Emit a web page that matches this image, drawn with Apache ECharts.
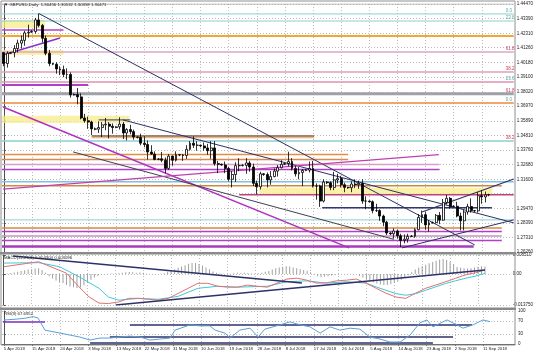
<!DOCTYPE html>
<html><head><meta charset="utf-8">
<script src="https://cdn.jsdelivr.net/npm/echarts@6/dist/echarts.min.js"></script>
<style>html,body{margin:0;padding:0;background:#fff}#c{width:536px;height:358px}</style>
</head><body><div id="c"></div>
<script>
// ---------- DATA ----------
const xTickLabels = ['5 Apr 2018','15 Apr 2018','24 Apr 2018','3 May 2018','13 May 2018','22 May 2018','31 May 2018','10 Jun 2018','19 Jun 2018','28 Jun 2018','8 Jul 2018','17 Jul 2018','26 Jul 2018','5 Aug 2018','14 Aug 2018','23 Aug 2018','2 Sep 2018','11 Sep 2018'];
const xTickBars = [0,8,16,24,32,40,48,56,64,72,80,88,96,104,112,120,128,136];
const priceTicks = [1.26260,1.27310,1.28390,1.29470,1.31600,1.32680,1.33760,1.34810,1.35890,1.36970,1.38020,1.39100,1.40180,1.41260,1.42310,1.43390,1.44470];
const priceGrid = [1.26260,1.27310,1.28390,1.29470,1.30550,1.31600,1.32680,1.33760,1.34810,1.35890,1.36970,1.38020,1.39100,1.40180,1.41260,1.42310,1.43390,1.44470];
const macdTicks = [-0.01375, 0, 0.00851];
const rsiTicks = [0, 30, 70, 100];
const lastPrice = 1.30471;

// [open, close, low, high] per daily bar, 5 Apr .. 13 Sep 2018
const candles = [
[1.4090,1.4010,1.3990,1.4095],[1.4010,1.4085,1.3980,1.4100],[1.4085,1.4090,1.4080,1.4095],[1.4090,1.4120,1.4055,1.4145],
[1.4120,1.4160,1.4090,1.4185],[1.4160,1.4180,1.4120,1.4215],[1.4180,1.4235,1.4140,1.4250],[1.4235,1.4240,1.4200,1.4295],
[1.4240,1.4245,1.4235,1.4255],[1.4245,1.4330,1.4230,1.4345],[1.4330,1.4290,1.4275,1.4377],[1.4290,1.4195,1.4165,1.4300],
[1.4195,1.4085,1.4070,1.4215],[1.4085,1.4010,1.3990,1.4110],[1.4010,1.4005,1.3998,1.4015],[1.4005,1.3970,1.3935,1.4020],
[1.3970,1.3965,1.3925,1.3990],[1.3965,1.3930,1.3910,1.3995],[1.3930,1.3930,1.3895,1.3975],[1.3930,1.3780,1.3760,1.3945],
[1.3780,1.3782,1.3775,1.3790],[1.3782,1.3765,1.3710,1.3830],[1.3765,1.3610,1.3600,1.3790],[1.3610,1.3590,1.3575,1.3640],
[1.3590,1.3580,1.3530,1.3620],[1.3580,1.3530,1.3485,1.3590],[1.3530,1.3528,1.3520,1.3540],[1.3528,1.3540,1.3500,1.3585],
[1.3540,1.3560,1.3470,1.3580],[1.3560,1.3565,1.3520,1.3610],[1.3565,1.3550,1.3460,1.3580],[1.3550,1.3540,1.3495,1.3570],
[1.3540,1.3545,1.3535,1.3550],[1.3545,1.3565,1.3525,1.3615],[1.3565,1.3500,1.3455,1.3580],[1.3500,1.3525,1.3445,1.3535],
[1.3525,1.3510,1.3490,1.3560],[1.3510,1.3470,1.3450,1.3525],[1.3470,1.3468,1.3460,1.3475],[1.3468,1.3425,1.3410,1.3495],
[1.3425,1.3415,1.3395,1.3475],[1.3415,1.3360,1.3305,1.3445],[1.3360,1.3345,1.3340,1.3410],[1.3345,1.3305,1.3300,1.3365],
[1.3305,1.3310,1.3300,1.3315],[1.3310,1.3300,1.3285,1.3360],[1.3300,1.3240,1.3205,1.3320],[1.3240,1.3330,1.3230,1.3345],
[1.3330,1.3300,1.3260,1.3335],[1.3300,1.3340,1.3290,1.3365],[1.3340,1.3338,1.3330,1.3345],[1.3338,1.3335,1.3295,1.3345],
[1.3335,1.3380,1.3310,1.3410],[1.3380,1.3425,1.3370,1.3440],[1.3425,1.3410,1.3390,1.3475],[1.3410,1.3410,1.3370,1.3440],
[1.3410,1.3405,1.3395,1.3415],[1.3405,1.3390,1.3370,1.3430],[1.3390,1.3370,1.3340,1.3420],[1.3370,1.3390,1.3310,1.3440],
[1.3390,1.3275,1.3260,1.3440],[1.3275,1.3270,1.3205,1.3295],[1.3270,1.3265,1.3260,1.3275],[1.3265,1.3240,1.3205,1.3290],
[1.3240,1.3160,1.3145,1.3250],[1.3160,1.3195,1.3100,1.3220],[1.3195,1.3260,1.3140,1.3285],[1.3260,1.3260,1.3220,1.3315],
[1.3260,1.3262,1.3255,1.3270],[1.3262,1.3280,1.3200,1.3315],[1.3280,1.3250,1.3215,1.3295],[1.3250,1.3130,1.3110,1.3275],
[1.3130,1.3105,1.3050,1.3150],[1.3105,1.3200,1.3085,1.3215],[1.3200,1.3195,1.3185,1.3205],[1.3195,1.3155,1.3100,1.3210],
[1.3155,1.3180,1.3120,1.3220],[1.3180,1.3220,1.3175,1.3240],[1.3220,1.3245,1.3180,1.3265],[1.3245,1.3270,1.3240,1.3300],
[1.3270,1.3275,1.3265,1.3280],[1.3275,1.3290,1.3255,1.3363],[1.3290,1.3240,1.3225,1.3315],[1.3240,1.3200,1.3180,1.3260],
[1.3200,1.3210,1.3160,1.3250],[1.3210,1.3225,1.3110,1.3235],[1.3225,1.3228,1.3220,1.3235],[1.3228,1.3240,1.3210,1.3290],
[1.3240,1.3110,1.3100,1.3295],[1.3110,1.3110,1.3010,1.3130],[1.3110,1.3000,1.2957,1.3120],[1.3000,1.3140,1.2990,1.3160],
[1.3140,1.3135,1.3125,1.3145],[1.3135,1.3100,1.3080,1.3145],[1.3100,1.3155,1.3080,1.3215],[1.3155,1.3165,1.3130,1.3200],
[1.3165,1.3120,1.3100,1.3185],[1.3120,1.3100,1.3065,1.3135],[1.3100,1.3098,1.3090,1.3105],[1.3098,1.3125,1.3065,1.3145],
[1.3125,1.3120,1.3095,1.3160],[1.3120,1.3130,1.3090,1.3150],[1.3130,1.3000,1.2980,1.3160],[1.3000,1.3000,1.2940,1.3035],
[1.3000,1.2995,1.2990,1.3005],[1.2995,1.2930,1.2910,1.3005],[1.2930,1.2930,1.2920,1.2980],[1.2930,1.2890,1.2855,1.2940],
[1.2890,1.2845,1.2815,1.2900],[1.2845,1.2765,1.2750,1.2855],[1.2765,1.2760,1.2750,1.2770],[1.2760,1.2780,1.2725,1.2800],
[1.2780,1.2745,1.2725,1.2790],[1.2745,1.2710,1.2662,1.2760],[1.2710,1.2720,1.2690,1.2755],[1.2720,1.2740,1.2695,1.2760],
[1.2740,1.2742,1.2735,1.2750],[1.2742,1.2790,1.2730,1.2800],[1.2790,1.2880,1.2785,1.2905],[1.2880,1.2900,1.2840,1.2930],
[1.2900,1.2825,1.2790,1.2920],[1.2825,1.2840,1.2775,1.2860],[1.2840,1.2842,1.2835,1.2850],[1.2842,1.2895,1.2835,1.2905],
[1.2895,1.2860,1.2830,1.2920],[1.2860,1.2990,1.2855,1.3015],[1.2990,1.3020,1.2975,1.3045],[1.3020,1.2960,1.2945,1.3030],
[1.2960,1.2962,1.2955,1.2970],[1.2962,1.2890,1.2880,1.2995],[1.2890,1.2855,1.2785,1.2915],[1.2855,1.2920,1.2785,1.2935],
[1.2920,1.2960,1.2900,1.2980],[1.2960,1.2930,1.2915,1.3020],[1.2930,1.2928,1.2920,1.2935],[1.2928,1.3040,1.2915,1.3065],
[1.3040,1.3030,1.2980,1.3080],[1.3030,1.3045,1.2990,1.3070],[1.30456,1.30471,1.30358,1.30532]
];

const macdHist = [
0.0002,0.0003,0.0005,0.0007,0.0010,0.0014,0.0017,0.0020,0.0022,0.0025,0.0026,0.0018,0.0006,-0.0010,-0.0020,-0.0028,
-0.0035,-0.0040,-0.0048,-0.0055,-0.0058,-0.0062,-0.0060,-0.0050,-0.0038,-0.0025,-0.0015,-0.0008,-0.0003,0.0000,0.0002,0.0003,
0.0002,0.0004,0.0006,0.0008,0.0009,0.0008,0.0006,0.0007,0.0006,0.0003,0.0001,0.0000,0.0000,0.0002,0.0004,0.0010,
0.0016,0.0022,0.0028,0.0034,0.0040,0.0046,0.0050,0.0049,0.0045,0.0038,0.0030,0.0022,0.0012,0.0006,0.0003,0.0002,
0.0001,0.0002,0.0004,0.0006,0.0005,0.0006,0.0005,0.0003,0.0002,0.0004,0.0006,0.0010,0.0014,0.0020,0.0026,0.0030,
0.0033,0.0035,0.0034,0.0030,0.0026,0.0022,0.0018,0.0015,0.0008,-0.0004,-0.0010,-0.0013,-0.0012,-0.0010,-0.0006,-0.0003,
-0.0001,0.0000,0.0001,0.0002,0.0001,0.0000,-0.0008,-0.0015,-0.0022,-0.0030,-0.0036,-0.0042,-0.0046,-0.0049,-0.0048,-0.0045,
-0.0040,-0.0034,-0.0025,-0.0015,-0.0005,0.0008,0.0020,0.0030,0.0036,0.0042,0.0048,0.0054,0.0060,0.0065,0.0067,0.0063,
0.0055,0.0045,0.0032,0.0028,0.0026,0.0025,0.0026,0.0030,0.0033,0.0035,0.0034
];
// [bar, value] points
const macdMain = [[0,0.0033],[10,0.0055],[18,0.0004],[21.6,-0.0057],[24.5,-0.0102],[27.3,-0.0129],[30,-0.0131],[33,-0.0124],[35.8,-0.0108],[38.7,-0.0108],[41.5,-0.0112],[44.3,-0.0116],[47.2,-0.0108],[50,-0.0086],[52.9,-0.0063],[55.7,-0.0041],[58.5,-0.0041],[61.4,-0.0054],[64.2,-0.0058],[67,-0.0058],[69.9,-0.0049],[72.7,-0.0054],[75.6,-0.0058],[81.2,-0.0022],[84.1,-0.0018],[86.9,-0.0027],[89.8,-0.0040],[92.6,-0.0039],[95.4,-0.0030],[98.3,-0.0027],[101.1,-0.0022],[103.9,-0.0040],[106.8,-0.0063],[109.6,-0.0085],[112.5,-0.0102],[115.3,-0.0108],[118.1,-0.0085],[121,-0.0063],[123.8,-0.0049],[126.7,-0.0034],[129.5,-0.0019],[132.3,-0.0004],[135.2,0.0006],[138,0.0018]];
const macdSignal = [[0,0.0049],[10,0.0051],[16,0.0033],[21.6,-0.0012],[27.3,-0.0063],[30,-0.0102],[33,-0.0116],[38.7,-0.0108],[44.3,-0.0112],[50,-0.0099],[55.7,-0.0063],[61.4,-0.0054],[67,-0.0058],[75.6,-0.0054],[81.2,-0.0034],[86.9,-0.0030],[92.6,-0.0040],[98.3,-0.0034],[103.9,-0.0040],[106.8,-0.0057],[109.6,-0.0072],[112.5,-0.0087],[115.3,-0.0094],[118.1,-0.0087],[121,-0.0072],[123.8,-0.0057],[126.7,-0.0042],[129.5,-0.0030],[132.3,-0.0019],[135.2,-0.0009],[138,0.0003]];
const rsiPts = [[0,72.7],[3.2,75],[6,78],[8.3,83],[9.7,79],[11.7,42],[13.1,39],[16,33],[18.8,27],[21.6,21],[24.5,12],[27.3,18],[30.1,18],[33,21],[35.8,24],[38.7,21],[41.5,12],[44.3,15],[47.2,18],[48.6,42],[52.9,58],[55.7,55],[58.5,55],[60,42],[62.8,33],[64.2,18],[67,42],[69.9,48],[72.2,21],[74.1,45],[78.4,58],[81.2,67],[84.1,58],[86.9,52],[89.8,33],[92.6,52],[95.4,42],[98.3,48],[101.1,45],[103.9,21],[106.8,15],[109.6,6],[112.5,6],[115.3,27],[118.1,64],[120.1,73],[121.8,52],[125.8,73],[128.6,58],[130.3,48],[133.2,58],[136,73],[138,67.7]];

// horizontal levels: [price, fromBar, toBar]
const levels = [
[1.4447,-0.5,145.1],[1.4374,-0.5,145.1],[1.4322,-0.5,145.1],[1.4256,-0.5,17],[1.4212,-0.5,145.1],
[1.4095,-0.5,145.1],[1.3948,-0.5,145.1],[1.3875,-0.5,145.1],[1.3853,-0.5,24],[1.3788,-0.5,145.1],
[1.3720,-0.5,145.1],[1.3596,27,36],[1.3478,25,88.3],[1.3465,25,88.3],[1.3441,-0.5,145.1],
[1.3342,-0.5,98],[1.3305,-0.5,98],[1.3269,-0.5,124],[1.3232,-0.5,124],[1.3141,-0.5,145.1],
[1.3112,-0.5,141.7],[1.3047,67,145.1],[1.2950,90.6,138.9],[1.2862,-0.5,145.1],[1.2803,-0.5,141.7],
[1.2776,-0.5,141.7],[1.2744,-0.5,141.7],[1.2710,-0.5,141.7],[1.2666,-0.5,133.7]
];
const levelTags = ['', '0.0','23.6','','', '61.8','38.2','23.6','','61.8', '0.0','','','','38.2', '','','','','', '','','','','', '','','',''];
// shaded zones: [fromBar, topPrice, toBar, bottomPrice]
const zones = [[-0.5,1.4330,11.7,1.4271],[-0.5,1.4109,17,1.4073],[-0.5,1.3626,35.8,1.3574],[72.7,1.3098,139,1.3047]];
// trend lines: [bar1, price1, bar2, price2]
const trends = [[10,1.4377,134,1.2678],[33.9,1.3596,145.1,1.2840],[-0.2,1.3691,98.3,1.2656],[-0.2,1.4073,16,1.4197],[19.7,1.3361,111,1.2719],[-0.2,1.3087,123.8,1.3341],[113.3,1.2656,145.1,1.2862],[119,1.2920,145.1,1.3162]];
const macdTrends = [[2.6,0.0081,85.5,-0.0040],[32.1,-0.0137,138,0.0018]];
const rsiLevels = [[66.7,-0.2,11.7],[57.6,35.8,132.9],[21.2,30.1,127.5],[3,24.5,121.8]];

// ---------- STYLES ----------
const levelStyle = [
['#a8a8a8',1],['#8ccfcf',1],['#8ccfcf',1],['#b040c8',1.5],['#f0a830',2],
['#d8a8c8',1.5],['#e0a0b8',1.5],['#e090b0',1.5],['#b040c8',2],['#a0a0a8',3],
['#f08838',1.5],['#303870',1],['#806050',1.5],['#f0a050',1],['#8ccfcf',1.5],
['#e09040',1.5],['#d88850',1.5],['#d8a0c8',1.5],['#b040c8',1.5],['#80c0e0',1.5],
['#d08840',1.5],['#c04080',1.5],['#303870',1.5],['#8ccfcf',1],['#d88840',1.5],
['#b040c8',1.5],['#c890c0',1.5],['#b040c8',1.5],['#a838c0',2.5]
];
const tagColor = {'0.0':'#5aa8a8','23.6':'#5aa8a8','61.8':'#d04050','38.2':'#d04050'};
const trendStyle = [['#2c3168',1],['#2c3168',1],['#b030c0',1.5],['#9030c0',1.5],['#404050',1],['#c040b0',1.2],['#2c3168',1],['#2c3168',1.2]];
const NAVY = '#2c3168';
const FONT = 'Liberation Sans';
const XMIN = -0.5, XMAX = 145.1;

const chart = echarts.init(document.getElementById('c'), null, {renderer:'canvas'});
const lineSeg = (x1,y1,x2,y2,xi,yi,color,w) => ({
  type:'line', xAxisIndex:xi, yAxisIndex:yi, data:[[x1,y1],[x2,y2]], symbol:'none', silent:true,
  lineStyle:{color:color,width:w}, z:3, animation:false
});
const series = [];
levels.forEach((l,i)=>{
  const s = lineSeg(l[1],l[0],l[2],l[0],0,0,levelStyle[i][0],levelStyle[i][1]);
  const tag = levelTags[i];
  if (tag) {
    s.endLabel = {show:true, formatter:tag, color:tagColor[tag], fontSize:4.5, fontFamily:FONT, offset:[-16,-3]};
  }
  series.push(s);
});
trends.forEach((t,i)=>series.push(lineSeg(t[0],t[1],t[2],t[3],0,0,trendStyle[i][0],trendStyle[i][1])));
series.push({
  type:'candlestick', xAxisIndex:0, yAxisIndex:0, z:5,
  data: candles.map((c,i)=>[i,c[0],c[1],c[2],c[3]]),
  encode:{x:0, y:[1,2,3,4]}, barWidth:2.4,
  itemStyle:{color:'#ffffff', color0:'#000000', borderColor:'#000000', borderColor0:'#000000', borderWidth:0.8},
  markArea:{silent:true, itemStyle:{color:'rgba(248,236,140,0.75)'}, data: zones.map(z=>[{coord:[z[0],z[1]]},{coord:[z[2],z[3]]}])},
  markLine:{silent:true, symbol:'none', lineStyle:{opacity:0},
    label:{show:true, position:'end', distance:1, formatter:lastPrice.toFixed(5), backgroundColor:'#000', color:'#fff', fontSize:4.5, fontFamily:FONT, padding:[1,3]},
    data:[{yAxis:lastPrice}]}
});
series.push({type:'bar', xAxisIndex:1, yAxisIndex:1, data: macdHist.map((v,i)=>[i,v]), barWidth:1, itemStyle:{color:'#a0a0a0'}, silent:true});
series.push({type:'line', xAxisIndex:1, yAxisIndex:1, data:macdSignal, symbol:'none', lineStyle:{color:'#40c8d8',width:1}, silent:true});
series.push({type:'line', xAxisIndex:1, yAxisIndex:1, data:macdMain, symbol:'none', lineStyle:{color:'#e07070',width:1}, silent:true});
macdTrends.forEach(t=>series.push(lineSeg(t[0],t[1],t[2],t[3],1,1,NAVY,1.5)));
rsiLevels.forEach((r,i)=>series.push(lineSeg(r[1],r[0],r[2],r[0],2,2,i===0?'#8030c0':NAVY,1.5)));
series.push({type:'line', xAxisIndex:2, yAxisIndex:2, data:rsiPts, symbol:'none', lineStyle:{color:'#5aa0d8',width:1}, silent:true});

const grid = [
  {left:2, top:4, width:513, height:248},
  {left:2, top:255, width:513, height:50},
  {left:2, top:311, width:513, height:33}
];
const dotted = {show:true, lineStyle:{color:'#bcbcbc', type:[1,2], width:1}};
const xAxis = [0,1,2].map(g=>({
  type:'value', gridIndex:g, min:XMIN, max:XMAX,
  axisLine:{show:g===2, lineStyle:{color:'#505050'}},
  axisTick:{show:g===2, customValues:xTickBars, length:2, lineStyle:{color:'#505050'}},
  splitLine:dotted,
  axisLabel:{show:g===2, customValues:xTickBars, fontSize:4.3, fontFamily:FONT, color:'#222', margin:3, align:'left',
    formatter:v=>{const k=xTickBars.indexOf(Math.round(v)); return k>=0?xTickLabels[k]:'';}}
}));
const yAxis = [
  {type:'value', gridIndex:0, position:'right', min:1.2626, max:1.4447, scale:true,
   axisLine:{show:true, lineStyle:{color:'#505050'}},
   axisTick:{show:true, customValues:priceGrid, length:2, lineStyle:{color:'#505050'}},
   splitLine:dotted,
   axisLabel:{customValues:priceTicks, fontSize:4.5, fontFamily:FONT, color:'#222', margin:3, formatter:v=>v.toFixed(5)}},
  {type:'value', gridIndex:1, position:'right', min:-0.01375, max:0.00851,
   axisLine:{show:true, lineStyle:{color:'#505050'}},
   axisTick:{show:true, customValues:macdTicks, length:2, lineStyle:{color:'#505050'}},
   splitLine:dotted,
   axisLabel:{customValues:macdTicks, fontSize:4.5, fontFamily:FONT, color:'#222', margin:3, formatter:v=>v===0?'0.00':v.toFixed(6)}},
  {type:'value', gridIndex:2, position:'right', min:0, max:100,
   axisLine:{show:true, lineStyle:{color:'#505050'}},
   axisTick:{show:true, customValues:rsiTicks, length:2, lineStyle:{color:'#505050'}},
   splitLine:dotted,
   axisLabel:{customValues:rsiTicks, fontSize:4.5, fontFamily:FONT, color:'#222', margin:3, formatter:v=>String(v)}}
];
chart.setOption({
  animation:false, backgroundColor:'#ffffff',
  textStyle:{fontFamily:FONT},
  grid, xAxis, yAxis, series,
  graphic:[
    {type:'rect', shape:{x:0,y:252,width:516,height:2.5}, style:{fill:'#8a8a8a'}, z:10},
    {type:'rect', shape:{x:0,y:307.5,width:516,height:2.5}, style:{fill:'#8a8a8a'}, z:10},
    {type:'rect', shape:{x:1,y:1,width:514,height:344}, style:{fill:'none', stroke:'#909090', lineWidth:1}, z:10},
    {type:'text', x:4, y:2.5, style:{text:'\u25BC GBPUSD,Daily  1.30456 1.30532 1.30358 1.30471', fontSize:4.3, fontFamily:FONT, fill:'#222'}, z:11},
    {type:'text', x:4, y:256, style:{text:'MACD(12,26,9) 0.004304 0.003096', fontSize:4.3, fontFamily:FONT, fill:'#222'}, z:11},
    {type:'text', x:4, y:312, style:{text:'RSI(9) 67.6952', fontSize:4.3, fontFamily:FONT, fill:'#222'}, z:11}
  ]
});
</script></body></html>
